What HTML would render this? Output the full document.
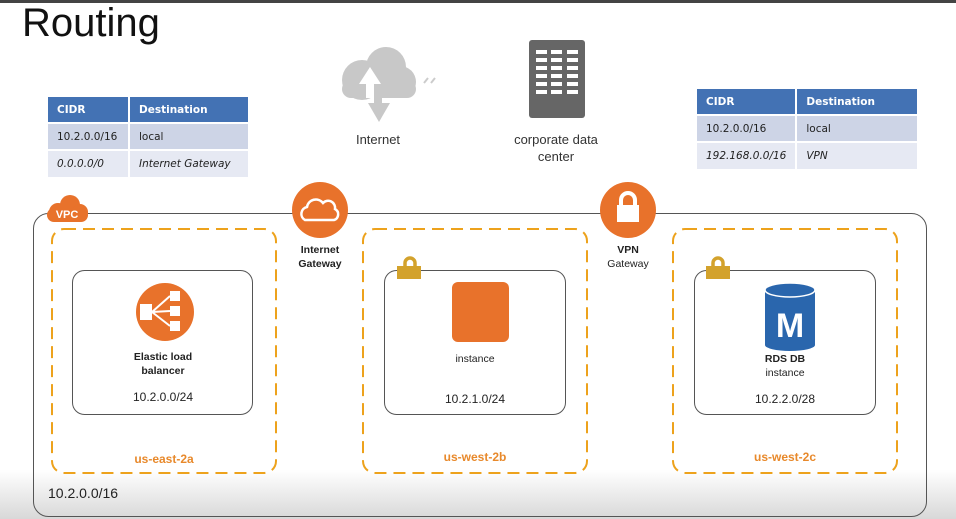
<!DOCTYPE html>
<html><head><meta charset="utf-8"><style>
body{margin:0;width:956px;height:519px;overflow:hidden;background:#fff;font-family:"Liberation Sans",sans-serif;position:relative}
.a{position:absolute}
.tb{position:absolute;border-collapse:separate;border-spacing:2px;font-family:"DejaVu Sans","Liberation Sans",sans-serif;font-size:10.5px}
.tb td{padding:0 9px;color:#222}
.tb .h td{background:#4372b4;color:#fff;font-weight:bold}
.tb .r1 td{background:#cdd4e6}
.tb .r2 td{background:#e6e9f3;font-style:italic}
.lbl{position:absolute;text-align:center;font-weight:bold;font-size:10.5px;color:#222;line-height:14px}
</style></head><body>
<div class="a" style="left:0;top:0;width:956px;height:3px;background:#444"></div>
<div class="a" style="left:0;top:470px;width:956px;height:49px;background:linear-gradient(#fff,#d8d8d8)"></div>
<div class="a" style="left:22px;top:1px;font-size:40px;color:#111">Routing</div>

<table class="tb" style="left:46px;top:95px;width:204px">
<tr class="h" style="height:25px"><td style="width:62px">CIDR</td><td>Destination</td></tr>
<tr class="r1" style="height:25px"><td>10.2.0.0/16</td><td>local</td></tr>
<tr class="r2" style="height:26px"><td>0.0.0.0/0</td><td>Internet Gateway</td></tr>
</table>
<table class="tb" style="left:695px;top:87px;width:224px">
<tr class="h" style="height:25px"><td style="width:80px">CIDR</td><td>Destination</td></tr>
<tr class="r1" style="height:25px"><td>10.2.0.0/16</td><td>local</td></tr>
<tr class="r2" style="height:26px"><td>192.168.0.0/16</td><td>VPN</td></tr>
</table>

<svg class="a" style="left:0;top:0" width="956" height="519">
<g fill="#c8c8c8">
<circle cx="362" cy="80" r="20"/><circle cx="386" cy="67" r="20"/><circle cx="400" cy="82" r="16"/><rect x="342" y="80" width="74" height="18" rx="9"/>
</g>
<polygon points="366,98 366,84 359,84 370,67 381,84 374,84 374,98" fill="#fff"/>
<polygon points="374,98 382,98 382,103 390,103 379,122 368,103 374,103" fill="#c8c8c8"/>
<path d="M424 83 l4 -5 M431 83 l4 -5" stroke="#ccc" stroke-width="2"/>
<text x="378" y="144" text-anchor="middle" font-size="13" fill="#333" font-family="Liberation Sans">Internet</text>
<rect x="529" y="40" width="56" height="78" rx="3" fill="#666"/>
<g fill="#fff">
<rect x="536" y="50" width="11" height="4"/><rect x="551" y="50" width="11" height="4"/><rect x="567" y="50" width="11" height="4"/>
<rect x="536" y="58" width="11" height="4"/><rect x="551" y="58" width="11" height="4"/><rect x="567" y="58" width="11" height="4"/>
<rect x="536" y="66" width="11" height="4"/><rect x="551" y="66" width="11" height="4"/><rect x="567" y="66" width="11" height="4"/>
<rect x="536" y="74" width="11" height="4"/><rect x="551" y="74" width="11" height="4"/><rect x="567" y="74" width="11" height="4"/>
<rect x="536" y="82" width="11" height="4"/><rect x="551" y="82" width="11" height="4"/><rect x="567" y="82" width="11" height="4"/>
<rect x="536" y="90" width="11" height="4"/><rect x="551" y="90" width="11" height="4"/><rect x="567" y="90" width="11" height="4"/>
</g>
<text x="556" y="144" text-anchor="middle" font-size="13" fill="#333" font-family="Liberation Sans">corporate data</text>
<text x="556" y="161" text-anchor="middle" font-size="13" fill="#333" font-family="Liberation Sans">center</text>
<rect x="33.5" y="213.5" width="893" height="303" rx="15" fill="none" stroke="#555" stroke-width="1"/>
<g fill="#e8722b"><circle cx="58" cy="212" r="9"/><circle cx="70" cy="205" r="10"/><circle cx="80" cy="212" r="8"/><rect x="47" y="208" width="41" height="14" rx="7"/></g>
<text x="67" y="218" text-anchor="middle" font-size="11" fill="#fff" font-weight="bold" font-family="Liberation Sans">VPC</text>
<g fill="none" stroke="#eda21c" stroke-width="2" stroke-dasharray="12,7">
<rect x="52" y="229" width="224" height="244" rx="12"/>
<rect x="363" y="229" width="224" height="244" rx="12"/>
<rect x="673" y="229" width="224" height="244" rx="12"/>
</g>
<g fill="#fff" stroke="#555" stroke-width="1">
<rect x="72.5" y="270.5" width="180" height="144" rx="12"/>
<rect x="384.5" y="270.5" width="181" height="144" rx="12"/>
<rect x="694.5" y="270.5" width="181" height="144" rx="12"/>
</g>
<circle cx="320" cy="210" r="28" fill="#e8722b"/>
<g fill="none" stroke="#fff" stroke-width="2.5"><path d="M305 220 a7 7 0 0 1 2 -13 a9 9 0 0 1 16 -4 a7 7 0 0 1 12 6 a6 6 0 0 1 -1 11 z"/></g>
<circle cx="628" cy="210" r="28" fill="#e8722b"/>
<path d="M621 206 v-6 a7 7 0 0 1 14 0 v6" fill="none" stroke="#fff" stroke-width="4"/>
<rect x="617" y="205" width="22" height="17" fill="#fff"/>
<path d="M405 268 v-5 a5 5 0 0 1 10 0 v5" fill="none" stroke="#d3a22c" stroke-width="3.5"/>
<rect x="397" y="266" width="24" height="13" fill="#d3a22c"/>
<path d="M713 268 v-5 a5 5 0 0 1 10 0 v5" fill="none" stroke="#d3a22c" stroke-width="3.5"/>
<rect x="706" y="266" width="24" height="13" fill="#d3a22c"/>
<circle cx="165" cy="312" r="29" fill="#e8722b"/>
<g fill="#fff"><rect x="140" y="304" width="12" height="16"/><rect x="170" y="291" width="10" height="10"/><rect x="170" y="306" width="10" height="10"/><rect x="170" y="321" width="10" height="10"/></g>
<path d="M152 312 L170 296 M152 312 L170 311 M152 312 L170 326" stroke="#fff" stroke-width="2"/>
<rect x="452" y="282" width="57" height="60" rx="6" fill="#e8722b"/>
<rect x="765" y="290" width="50" height="55" fill="#2a66ad"/>
<ellipse cx="790" cy="345" rx="25" ry="6" fill="#2a66ad"/>
<ellipse cx="790" cy="290" rx="25" ry="7" fill="#2a66ad" stroke="#fff" stroke-width="1.5"/>
<text x="790" y="337" text-anchor="middle" font-size="34" font-weight="bold" fill="#fff" font-family="Liberation Sans">M</text>
</svg>

<div class="lbl" style="left:280px;top:243px;width:80px">Internet<br>Gateway</div>
<div class="lbl" style="left:588px;top:243px;width:80px;font-weight:bold">VPN<br><span style="font-weight:normal">Gateway</span></div>
<div class="lbl" style="left:103px;top:350px;width:120px">Elastic load<br>balancer</div>
<div class="lbl" style="left:103px;top:390px;width:120px;font-size:12px;font-weight:normal">10.2.0.0/24</div>
<div class="lbl" style="left:415px;top:352px;width:120px;font-weight:normal">instance</div>
<div class="lbl" style="left:415px;top:392px;width:120px;font-size:12px;font-weight:normal">10.2.1.0/24</div>
<div class="lbl" style="left:725px;top:352px;width:120px">RDS DB<br><span style="font-weight:normal">instance</span></div>
<div class="lbl" style="left:725px;top:392px;width:120px;font-size:12px;font-weight:normal">10.2.2.0/28</div>
<div class="lbl" style="left:104px;top:452px;width:120px;color:#e8892b;font-size:12px">us-east-2a</div>
<div class="lbl" style="left:415px;top:450px;width:120px;color:#e8892b;font-size:12px">us-west-2b</div>
<div class="lbl" style="left:725px;top:450px;width:120px;color:#e8892b;font-size:12px">us-west-2c</div>
<div class="a" style="left:48px;top:485px;font-size:14px;color:#222">10.2.0.0/16</div>
</body></html>
